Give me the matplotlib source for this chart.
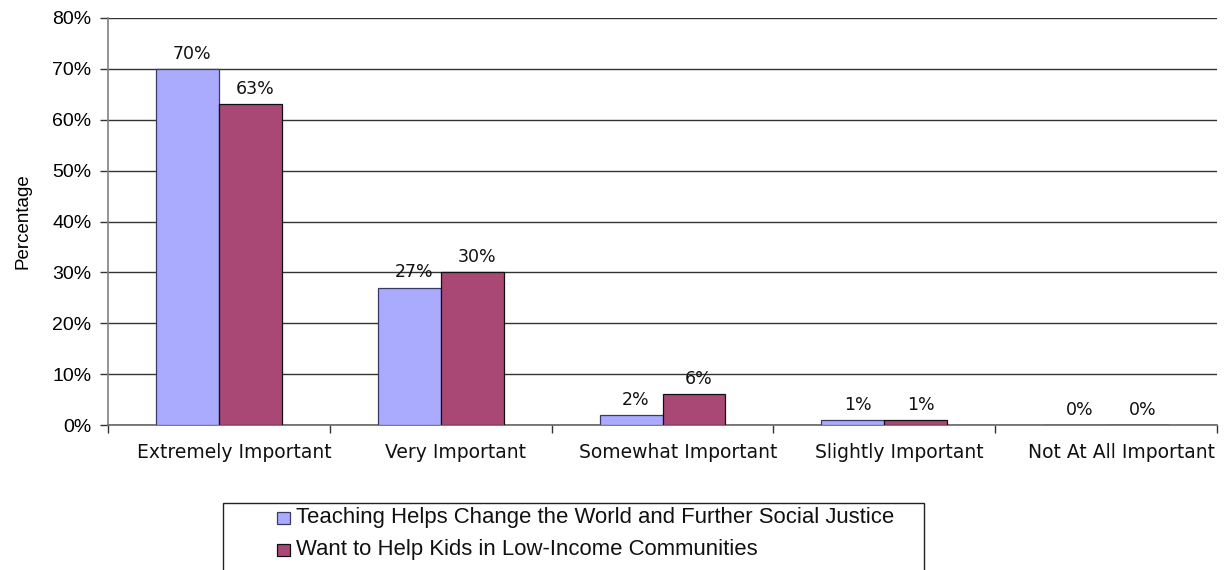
import matplotlib
matplotlib.use("Agg")
import matplotlib.pyplot as plt
from matplotlib.patches import Rectangle
import numpy as np

categories = ["Extremely Important", "Very Important", "Somewhat Important",
              "Slightly Important", "Not At All Important"]
social_justice = [70, 27, 2, 1, 0]
low_income_kids = [63, 30, 6, 1, 0]
series_names = ["Teaching Helps Change the World and Further Social Justice",
                "Want to Help Kids in Low-Income Communities"]
y_ticks = [0, 10, 20, 30, 40, 50, 60, 70, 80]

blue = "#AAAAFF"
plum = "#A94874"

W, H = 1228, 570
fig = plt.figure(figsize=(W / 100, H / 100), dpi=100)
ax = fig.add_axes([108 / W, 1 - 425 / H, (1217 - 108) / W, (425 - 18) / H])

x = np.arange(len(categories))
bw = 0.284
b1 = ax.bar(x - bw / 2, social_justice, bw, color=blue, edgecolor="#3a3a66", linewidth=0.9, zorder=3)
b2 = ax.bar(x + bw / 2, low_income_kids, bw, color=plum, edgecolor="#111111", linewidth=0.9, zorder=3)

for bars, vals in ((b1, social_justice), (b2, low_income_kids)):
    for rect, v in zip(bars, vals):
        ax.annotate(f"{v}%", (rect.get_x() + rect.get_width() / 2 + 0.022, v),
                    xytext=(0, 4.5), textcoords="offset points", ha="center", va="bottom",
                    fontsize=12.5, family="DejaVu Sans", color="#111111", zorder=4)

ax.set_xlim(-0.5, len(categories) - 0.5)
ax.set_ylim(0, 80)
ax.set_yticks(y_ticks)
ax.set_yticklabels([f"{t}%" for t in y_ticks], family="Liberation Sans", fontsize=14)
ax.yaxis.grid(True, color="#333333", linewidth=1.0, zorder=0)
ax.set_axisbelow(True)

# tick marks at group boundaries; category names written under each group
ax.set_xticks(np.arange(-0.5, len(categories), 1.0))
ax.set_xticklabels([])
for xi, cat in zip(x, categories):
    ax.annotate(cat, (xi, 0), xycoords=("data", "axes fraction"),
                xytext=(11, -19.5), textcoords="offset points", ha="center", va="center",
                family="DejaVu Sans", fontsize=13.5, color="#111111", annotation_clip=False)
ax.tick_params(axis="x", which="major", length=6, width=1, color="#333333", direction="out")
ax.tick_params(axis="y", length=6, width=1, color="#333333", pad=6)

for s in ("top", "right"):
    ax.spines[s].set_visible(False)
ax.spines["left"].set_color("#808080")
ax.spines["left"].set_linewidth(1.2)
ax.spines["bottom"].set_color("#666666")
ax.spines["bottom"].set_linewidth(1.2)

ax.set_ylabel("Percentage", family="Liberation Sans", fontsize=13.5, labelpad=15)

# legend box, running off the bottom edge
fig.patches.append(Rectangle((223 / W, -0.05), (924 - 223) / W, (0.05 + 1 - 503 / H),
                             transform=fig.transFigure, facecolor="white",
                             edgecolor="#222222", linewidth=1.0))
for i, (name, col, ec) in enumerate(zip(series_names, (blue, plum), ("#3a3a66", "#111111"))):
    yc = 518 + 32 * i
    fig.patches.append(Rectangle((277 / W, 1 - (yc + 6) / H), 13 / W, 12 / H,
                                 transform=fig.transFigure, facecolor=col,
                                 edgecolor=ec, linewidth=0.9))
    fig.text(296 / W, 1 - yc / H, name, ha="left", va="center",
             family="Liberation Sans", fontsize=15.9, color="#111111")

fig.savefig("out.png", dpi=100, facecolor="white")
